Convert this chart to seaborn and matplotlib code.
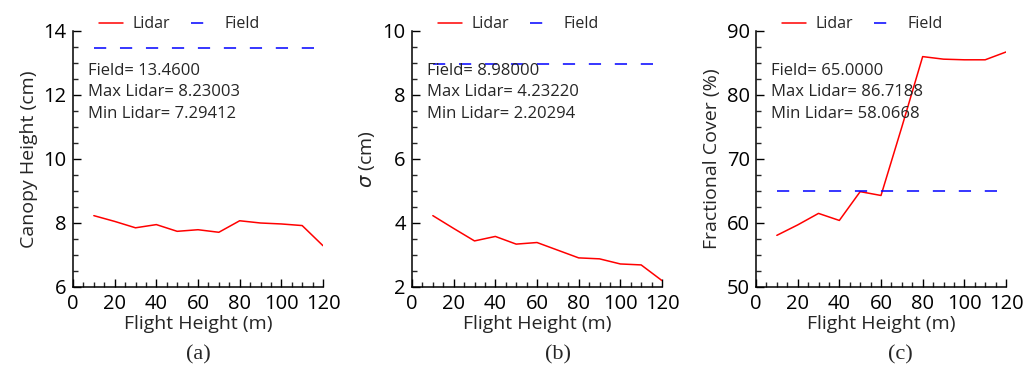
import numpy as np
import pandas as pd
import seaborn as sns
import matplotlib.pyplot as plt
from matplotlib.ticker import MultipleLocator

flight_height = [10, 20, 30, 40, 50, 60, 70, 80, 90, 100, 110, 120]

canopy_lidar = [8.23, 8.05, 7.85, 7.95, 7.74, 7.79, 7.71, 8.07, 8.00, 7.97, 7.92, 7.29]
canopy_field = 13.46

sigma_lidar = [4.23, 3.83, 3.44, 3.58, 3.34, 3.39, 3.15, 2.91, 2.88, 2.72, 2.69, 2.20]
sigma_field = 8.98

cover_lidar = [58.07, 59.7, 61.5, 60.4, 64.9, 64.3, 75.0, 86.0, 85.6, 85.5, 85.5, 86.72]
cover_field = 65.0

ylabels = ["Canopy Height (cm)", r"$\sigma$ (cm)", "Fractional Cover (%)"]
ylims = [(6, 14), (2, 10), (50, 90)]
ymajor = [2, 2, 10]
yminor = [0.5, 0.5, 2.5]
notes = [
    ["Field= 13.4600", "Max Lidar= 8.23003", "Min Lidar= 7.29412"],
    ["Field= 8.98000", "Max Lidar= 4.23220", "Min Lidar= 2.20294"],
    ["Field= 65.0000", "Max Lidar= 86.7188", "Min Lidar= 58.0668"],
]
captions = ["(a)", "(b)", "(c)"]

sns.set_style("ticks")
plt.rcParams["font.family"] = ["Open Sans", "DejaVu Sans"]

fig = plt.figure(figsize=(10.24, 3.69), dpi=100)
lefts = [73, 412, 756]
width = 250
bottom, top = 287, 31
cap_x = [198, 558, 900]

series = [(canopy_lidar, canopy_field), (sigma_lidar, sigma_field), (cover_lidar, cover_field)]

for i, (lidar, field) in enumerate(series):
    ax = fig.add_axes([lefts[i] / 1024, 1 - bottom / 369, width / 1024, (bottom - top) / 369])
    df = pd.DataFrame({"x": flight_height, "Lidar": lidar, "Field": [field] * len(flight_height)})
    sns.lineplot(data=df, x="x", y="Lidar", ax=ax, color="red", lw=1.1, label="Lidar")
    sns.lineplot(data=df, x="x", y="Field", ax=ax, color="blue", lw=1.1, label="Field",
                 dashes=False)
    ax.lines[1].set_dashes((8, 9))

    ax.set_xlim(0, 120)
    ax.set_ylim(*ylims[i])
    ax.xaxis.set_major_locator(MultipleLocator(20))
    ax.xaxis.set_minor_locator(MultipleLocator(5))
    ax.yaxis.set_major_locator(MultipleLocator(ymajor[i]))
    ax.yaxis.set_minor_locator(MultipleLocator(yminor[i]))
    ax.tick_params(which="major", direction="in", length=6, width=1, labelsize=14.5,
                   colors="black")
    ax.tick_params(axis="x", which="major", pad=5)
    ax.tick_params(axis="y", which="major", pad=4.5)
    ax.tick_params(which="minor", direction="in", length=3.5, width=1)
    for s in ["top", "right"]:
        ax.spines[s].set_visible(False)
    for s in ["left", "bottom"]:
        ax.spines[s].set_linewidth(1.1)
        ax.spines[s].set_color("black")

    ax.set_xlabel("Flight Height (m)", fontsize=14, labelpad=1)
    ax.set_ylabel(ylabels[i], fontsize=14, labelpad=4)

    ax.text(0.06, 0.875, "\n".join(notes[i]), transform=ax.transAxes, va="top", ha="left",
            fontsize=12, linespacing=1.45)

    ax.legend(loc="lower left", bbox_to_anchor=(0.08, 0.97), ncol=2, frameon=False,
              fontsize=11.5, handlelength=1.5, handletextpad=0.6, columnspacing=1.3,
              borderaxespad=0)

    fig.text(cap_x[i] / 1024, 1 - 355 / 369, captions[i], ha="center", va="center",
             fontsize=16, family="Liberation Serif")

fig.savefig("out.png", dpi=100)
